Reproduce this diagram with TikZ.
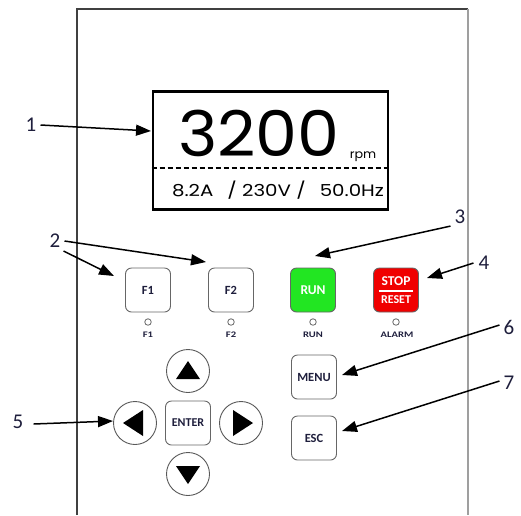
\documentclass[tikz,border=0pt]{standalone}
\usepackage{fontspec}
\setmainfont{Carlito}
\newfontfamily\dispfont[FakeStretch=1.06]{Poppins}
\newfontfamily\dispwide[FakeStretch=1.2]{Poppins}
\newfontfamily\ledfont[FakeStretch=1.25]{Carlito}
\usetikzlibrary{arrows.meta}
\definecolor{navy}{HTML}{1E1E3C}
\definecolor{rungreen}{HTML}{22E622}
\definecolor{stopred}{HTML}{F00000}
\begin{document}
\begin{tikzpicture}[x=1pt,y=-1pt,
  callout/.style={-{Triangle[length=15pt,width=11pt]}, line width=1.5pt},
  lbl/.style={font=\fontsize{21}{21}\selectfont, text=navy, inner sep=0pt},
  btn/.style={draw=gray!80!black, line width=0.9pt, rounded corners=6pt, minimum width=45pt, minimum height=44pt, inner sep=0pt, font=\bfseries\fontsize{12.5}{12.5}\selectfont, text=navy},
  led/.style={circle, draw=gray!80!black, line width=0.8pt, minimum size=6.5pt, inner sep=0pt},
  ledtxt/.style={font=\ledfont\bfseries\fontsize{8.5}{8.5}\selectfont, text=navy, inner sep=0pt},
  padc/.style={circle, draw=gray!70!black, line width=0.9pt, minimum size=43pt, inner sep=0pt}
]
\useasboundingbox (0,0) rectangle (521,515);
% outer panel
\draw[line width=1.6pt, draw=gray!50!black] (77,515) -- (77,9) -- (468,9);
\draw[line width=1.6pt, draw=gray!75] (468,9) -- (468,515);
% display
\node[draw, line width=2.6pt, minimum width=235pt, minimum height=118pt, inner sep=0pt] (disp) at (270.5,150.5) {};
\draw[line width=2.4pt, dash pattern=on 5pt off 3pt] (disp.west |- 0,168) coordinate (dl) -- (disp.east |- 0,168) coordinate (dr);
\node[font=\dispfont\fontsize{63}{63}\selectfont, inner sep=0pt] (rpmval) at (259,133) {3200};
\node[font=\dispfont\fontsize{12}{12}\selectfont, inner sep=0pt] (rpm) at (363,157) {rpm};
\node[font=\dispwide\fontsize{16.5}{16.5}\selectfont, inner sep=0pt] (vals) at (278,190) {8.2A\hspace{14pt}/ 230V /\hspace{14pt}50.0Hz};
% labels
\node[lbl] (l1) at (31,125) {1};
\node[lbl] (l2) at (55,241) {2};
\node[lbl] (l3) at (460,217) {3};
\node[lbl] (l4) at (484,263) {4};
\node[lbl] (l5) at (18,422) {5};
\node[lbl] (l6) at (509,327) {6};
\node[lbl] (l7) at (509,383) {7};
% function buttons
\node[btn] (f1) at (148,290) {F1};
\node[btn] (f2) at (231,290) {F2};
\node[btn, fill=rungreen, text=white, font=\bfseries\fontsize{13.5}{13.5}\selectfont] (run) at (313,290) {RUN};
\node[btn, fill=stopred, text=white, align=center] (stop) at (396,290) {\fontsize{13.5}{13.5}\selectfont STOP\\[6pt]\fontsize{12}{12}\selectfont RESET};
\draw[white, line width=1.3pt] ([xshift=-17pt,yshift=-1pt]stop.center) -- ([xshift=17pt,yshift=-1pt]stop.center);
% leds
\node[led] (lf1) at (148,322) {};
\node[led] (lf2) at (231,322) {};
\node[led] (lrun) at (313,322) {};
\node[led] (lalarm) at (396,322) {};
\node[ledtxt] (tf1) at (148,335) {F1};
\node[ledtxt] (tf2) at (231,335) {F2};
\node[ledtxt] (trun) at (313,335) {RUN};
\node[ledtxt] (talarm) at (397,335) {ALARM};
% menu / esc
\node[btn] (menu) at (314,377) {MENU};
\node[btn] (esc) at (314,438) {ESC};
% direction pad
\node[btn, font=\bfseries\fontsize{12}{12}\selectfont] (enter) at (188,423) {ENTER};
\node[padc] (up) at (188,371) {};
\node[padc] (down) at (188,474) {};
\node[padc] (left) at (135,423) {};
\node[padc] (right) at (241,423) {};
\fill[shift={(up.center)}] (0,-10) -- (12,8) -- (-12,8) -- cycle;
\fill[shift={(down.center)}] (0,10) -- (12,-8) -- (-12,-8) -- cycle;
\fill[shift={(left.center)}] (-12,0) -- (8,-13) -- (8,13) -- cycle;
\fill[shift={(right.center)}] (12,0) -- (-8,-13) -- (-8,13) -- cycle;
% arrow targets
\coordinate (t1) at (151,131);
\coordinate (t2a) at (114,276);
\coordinate (t2b) at (206,262);
\coordinate (t3) at (315,256);
\coordinate (t4) at (427,278);
\coordinate (t5) at (113,421);
\coordinate (t6) at (342,375);
\coordinate (t7) at (342,431);
\draw[callout] (l1.east) ++(4,0) coordinate (s1) (s1) -- (t1);
\draw[callout] ([xshift=3pt,yshift=-3pt]l2.south east) coordinate (s2a) -- (t2a);
\draw[callout] ([xshift=4pt]l2.east) coordinate (s2b) -- (t2b);
\draw[callout] ([xshift=-4pt,yshift=-2pt]l3.south west) coordinate (s3) -- (t3);
\draw[callout] ([xshift=-5pt]l4.west) coordinate (s4) -- (t4);
\draw[callout] ([xshift=10pt,yshift=-2pt]l5.east) coordinate (s5) -- (t5);
\draw[callout] ([xshift=-4pt,yshift=2pt]l6.west) coordinate (s6) -- (t6);
\draw[callout] ([xshift=-4pt,yshift=2pt]l7.west) coordinate (s7) -- (t7);
\end{tikzpicture}
\end{document}
